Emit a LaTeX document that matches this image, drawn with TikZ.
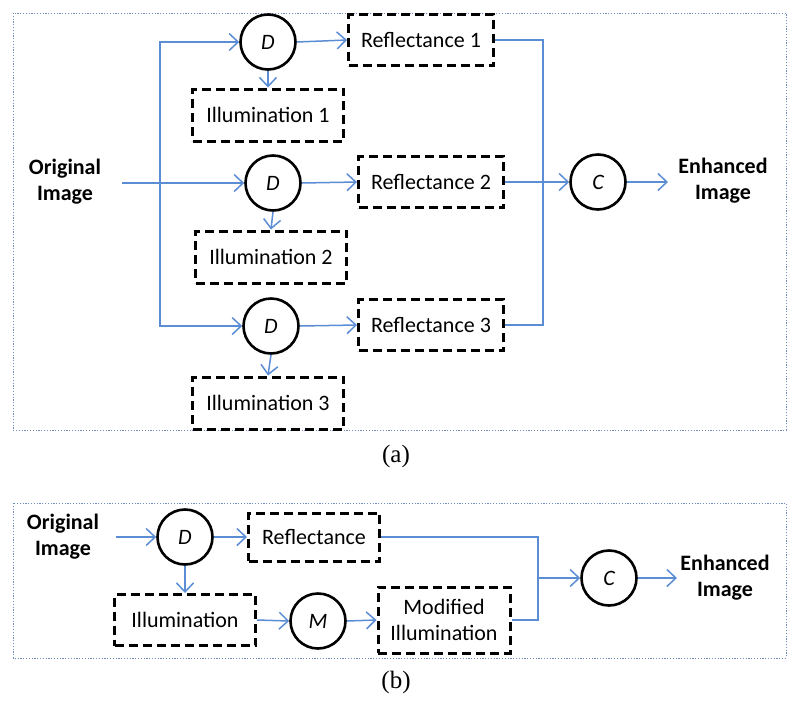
\documentclass[tikz,border=0pt]{standalone}
\usepackage{fontspec}
\setmainfont{Carlito}
\newfontfamily\capfont{Liberation Serif}
\usetikzlibrary{arrows.meta}
\definecolor{flowblue}{RGB}{91,141,212}
\definecolor{framecol}{RGB}{110,140,190}
\tikzset{
  flow/.style={draw=flowblue, line width=1.5pt, -{Straight Barb[length=9pt,width=17pt,line width=1.5pt]}},
  wire/.style={draw=flowblue, line width=1.5pt},
  dbox/.style={draw=black, line width=3pt, dash pattern=on 9pt off 5pt, rectangle, inner sep=0pt, fill=white, align=center,
    font=\fontsize{22}{26}\selectfont},
  proc/.style={circle, draw=black, line width=2.6pt, fill=white, minimum size=55pt, inner sep=0pt,
    font=\itshape\fontsize{22}{26}\selectfont},
  label/.style={align=center, font=\bfseries\fontsize{22}{26}\selectfont},
  frame/.style={draw=framecol, line width=0.9pt, dash pattern=on 1.2pt off 1.6pt},
  capt/.style={font=\capfont\fontsize{25}{28}\selectfont}
}
\begin{document}
\begin{tikzpicture}[x=1pt,y=-1pt]
\useasboundingbox (0,0) rectangle (800,705);
% frames
\draw[frame] (13,13) rectangle (786,430);
\draw[frame] (13,503) rectangle (786,658);
% ---------- (a)
\node[label] (origA) at (65,182) {Original\\Image};
\coordinate (inA) at (122,183);
\coordinate (split) at (160,183);
\node[proc] (D1) at (268,42) {D};
\node[proc] (D2) at (273,183) {D};
\node[proc] (D3) at (271,326) {D};
\node[dbox, minimum width=145pt, minimum height=51pt] (R1) at (421,40) {Reflectance 1};
\node[dbox, minimum width=145pt, minimum height=51pt] (R2) at (431,182) {Reflectance 2};
\node[dbox, minimum width=145pt, minimum height=51pt] (R3) at (431,325) {Reflectance 3};
\node[dbox, minimum width=151pt, minimum height=52pt] (I1) at (268,115) {Illumination 1};
\node[dbox, minimum width=151pt, minimum height=52pt] (I2) at (271,257) {Illumination 2};
\node[dbox, minimum width=151pt, minimum height=52pt] (I3) at (268,403) {Illumination 3};
\coordinate (jn) at (543,182);
\node[proc] (CA) at (598,182) {C};
\coordinate (outA) at (668,182);
\node[label] (enhA) at (723,181) {Enhanced\\Image};
\node[capt] (capA) at (396,456) {(a)};
\draw[flow] (inA) -- (D2.west);
\draw[flow] (split) |- (D1.west);
\draw[flow] (split) |- (D3.west);
\draw[flow] (D1.east) -- (R1.west);
\draw[flow] (D2.east) -- (R2.west);
\draw[flow] (D3.east) -- (R3.west);
\draw[flow] (D1.south) -- (I1.north);
\draw[flow] (D2.south) -- (I2.north);
\draw[flow] (D3.south) -- (I3.north);
\draw[wire] (R1.east) -| (jn);
\draw[wire] (R3.east) -| (jn);
\draw[flow] (R2.east) -- (CA.west);
\draw[flow] (CA.east) -- (outA);
% ---------- (b)
\node[label] (origB) at (63,537) {Original\\Image};
\coordinate (inB) at (116,537);
\node[proc] (DB) at (185,537) {D};
\node[dbox, minimum width=131pt, minimum height=48pt] (RB) at (314,537) {Reflectance};
\node[dbox, minimum width=141pt, minimum height=51pt] (IB) at (185,620) {Illumination};
\node[proc] (MB) at (318,621) {M};
\node[dbox, minimum width=132pt, minimum height=66pt] (MIB) at (444,620) {Modified\\Illumination};
\coordinate (jb) at (538,578);
\node[proc] (CB) at (609,578) {C};
\coordinate (outB) at (677,578);
\node[label] (enhB) at (725,578) {Enhanced\\Image};
\node[capt] (capB) at (396,682) {(b)};
\draw[flow] (inB) -- (DB.west);
\draw[flow] (DB.east) -- (RB.west);
\draw[flow] (DB.south) -- (IB.north);
\draw[flow] (IB.east) -- (MB.west);
\draw[flow] (MB.east) -- (MIB.west);
\draw[wire] (RB.east) -| (jb);
\draw[wire] (MIB.east) -| (jb);
\draw[flow] (jb) -- (CB.west);
\draw[flow] (CB.east) -- (outB);
\end{tikzpicture}
\end{document}
